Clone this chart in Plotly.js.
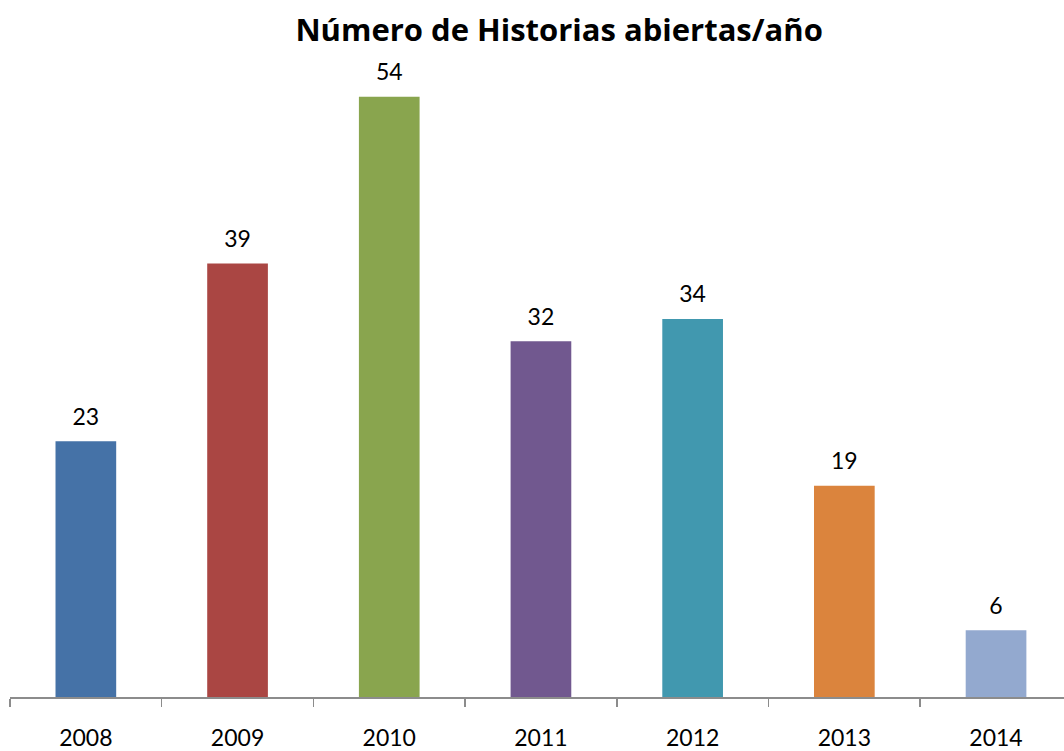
<!DOCTYPE html>
<html>
<head>
<meta charset="utf-8">
<script src="https://cdn.plot.ly/plotly-3.0.1.min.js"></script>
<style>html,body{margin:0;padding:0;background:#fff;}#chart{width:1064px;height:751px;}</style>
</head>
<body>
<div id="chart"></div>
<script>
const years = ["2008", "2009", "2010", "2011", "2012", "2013", "2014"];
const counts = [23, 39, 54, 32, 34, 19, 6];
const barColors = ["#4572A7", "#AA4643", "#89A54E", "#71588F", "#4198AF", "#DB843D", "#93A9CF"];
const chartTitle = "Número de Historias abiertas/año";

const font = "Lato, 'Open Sans', sans-serif";
const titleFont = "'Open Sans', Lato, sans-serif";

const barTrace = {
  type: "bar",
  x: years,
  y: counts,
  width: 0.4,
  marker: {color: barColors, line: {width: 0}},
  hoverinfo: "x+y"
};

const labelTrace = {
  type: "scatter",
  mode: "markers+text",
  x: years,
  y: counts,
  text: counts.map(v => String(v)),
  textposition: "top center",
  textfont: {family: font, size: 23, color: "#000"},
  marker: {size: 16, color: "rgba(0,0,0,0)", line: {width: 0}},
  cliponaxis: false,
  hoverinfo: "skip"
};

const layout = {
  width: 1064, height: 751,
  margin: {l: 10, r: 0, t: 30, b: 54},
  paper_bgcolor: "#fff", plot_bgcolor: "#fff",
  showlegend: false,
  title: {
    text: "<b>" + chartTitle + "</b>",
    x: 0.521, xanchor: "center", xref: "paper",
    y: 1 - 30/751, yanchor: "middle", yref: "container",
    font: {family: titleFont, size: 31, color: "#000"}
  },
  xaxis: {
    type: "category",
    range: [-0.5, 6.448],
    showline: true, linecolor: "#8c8c8c", linewidth: 1.5,
    ticks: "outside", tickson: "boundaries", ticklen: 8, tickcolor: "#8c8c8c", tickwidth: 1.5,
    showgrid: false, zeroline: false,
    ticklabelstandoff: 20,
    tickfont: {family: font, size: 23, color: "#000"}
  },
  yaxis: {
    range: [0, 60], showticklabels: false, showline: false, ticks: "",
    showgrid: false, zeroline: false, fixedrange: true
  }
};

Plotly.newPlot("chart", [barTrace, labelTrace], layout, {displayModeBar: false, staticPlot: true});
</script>
</body>
</html>
